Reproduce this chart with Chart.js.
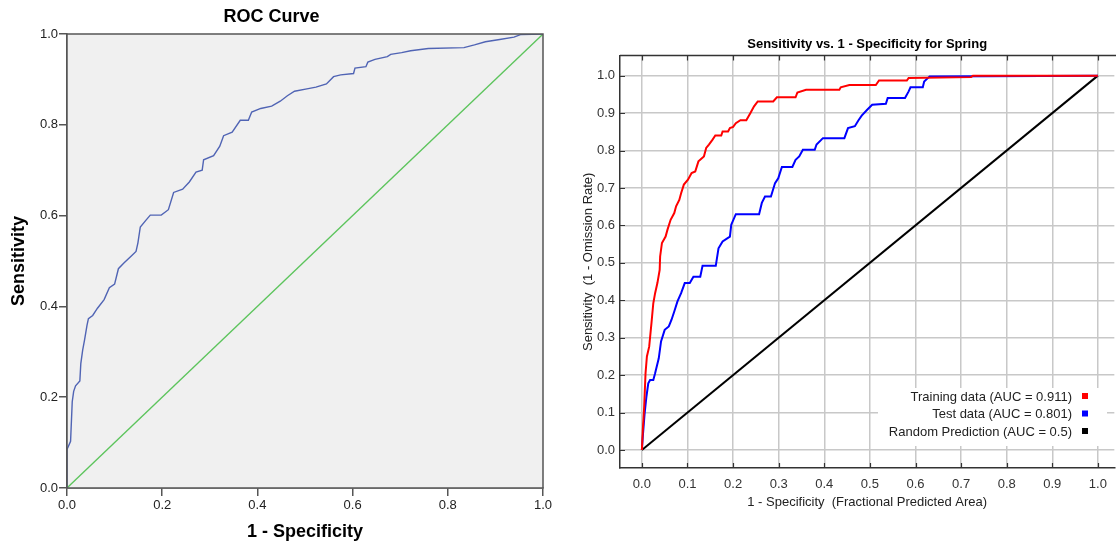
<!DOCTYPE html>
<html>
<head>
<meta charset="utf-8">
<script src="https://cdn.jsdelivr.net/npm/chart.js@4.4.1/dist/chart.umd.min.js"></script>
<style>
  html, body { margin: 0; padding: 0; background: #fff; }
  #wrap { position: relative; width: 1116px; height: 543px; overflow: hidden; }
  #c1 { position: absolute; left: 0; top: 0; }
  #c2 { position: absolute; left: 560px; top: 0; }
</style>
</head>
<body>
<div id="wrap">
  <canvas id="c1" width="560" height="543"></canvas>
  <canvas id="c2" width="556" height="543"></canvas>
</div>
<script>
// ---------- Left panel: ROC Curve ----------
const leftTitle = 'ROC Curve';
const leftXTitle = '1 - Specificity';
const leftYTitle = 'Sensitivity';
const leftTicks = [0, 0.2, 0.4, 0.6, 0.8, 1.0];
const leftFpr = [0, 0, 0.0075, 0.011, 0.014, 0.018, 0.027, 0.029, 0.033, 0.037, 0.042, 0.045, 0.054, 0.064, 0.078, 0.089, 0.1, 0.108, 0.119, 0.134, 0.145, 0.149, 0.154, 0.166, 0.175, 0.198, 0.213, 0.224, 0.243, 0.257, 0.271, 0.284, 0.287, 0.308, 0.321, 0.329, 0.347, 0.364, 0.381, 0.388, 0.407, 0.43, 0.448, 0.463, 0.478, 0.504, 0.523, 0.545, 0.56, 0.575, 0.602, 0.605, 0.628, 0.632, 0.647, 0.673, 0.68, 0.703, 0.722, 0.759, 0.834, 0.856, 0.879, 0.909, 0.939, 0.954, 1.0];
const leftTpr = [0, 0.085, 0.103, 0.19, 0.213, 0.225, 0.236, 0.274, 0.304, 0.327, 0.358, 0.373, 0.38, 0.396, 0.415, 0.441, 0.449, 0.483, 0.495, 0.51, 0.521, 0.54, 0.575, 0.59, 0.601, 0.601, 0.613, 0.651, 0.658, 0.674, 0.696, 0.7, 0.723, 0.732, 0.753, 0.776, 0.784, 0.81, 0.81, 0.828, 0.836, 0.841, 0.852, 0.864, 0.874, 0.879, 0.883, 0.89, 0.906, 0.91, 0.913, 0.925, 0.928, 0.938, 0.944, 0.95, 0.955, 0.959, 0.963, 0.968, 0.97, 0.976, 0.983, 0.988, 0.993, 0.999, 1.0];
const leftRef = [0, 1];

// ---------- Right panel: Maxent ----------
const rightTitle = 'Sensitivity vs. 1 - Specificity for Spring';
const rightXTitle = '1 - Specificity  (Fractional Predicted Area)';
const rightYTitle = 'Sensitivity  (1 - Omission Rate)';
const rightTicks = [0, 0.1, 0.2, 0.3, 0.4, 0.5, 0.6, 0.7, 0.8, 0.9, 1.0];
const legendLabels = ['Training data (AUC = 0.911)', 'Test data (AUC = 0.801)', 'Random Prediction (AUC = 0.5)'];
const trainFpr = [0, 0.002, 0.005, 0.008, 0.011, 0.016, 0.021, 0.025, 0.029, 0.034, 0.039, 0.04, 0.044, 0.052, 0.056, 0.063, 0.071, 0.075, 0.082, 0.086, 0.092, 0.101, 0.109, 0.117, 0.124, 0.136, 0.141, 0.147, 0.155, 0.161, 0.174, 0.177, 0.189, 0.193, 0.2, 0.206, 0.216, 0.229, 0.238, 0.246, 0.254, 0.288, 0.296, 0.337, 0.341, 0.36, 0.433, 0.436, 0.455, 0.513, 0.52, 0.581, 0.585, 0.722, 0.726, 1.0];
const trainTpr = [0, 0.053, 0.116, 0.205, 0.25, 0.276, 0.339, 0.392, 0.419, 0.446, 0.481, 0.517, 0.553, 0.57, 0.588, 0.615, 0.633, 0.651, 0.668, 0.686, 0.709, 0.722, 0.74, 0.744, 0.771, 0.784, 0.807, 0.816, 0.829, 0.84, 0.84, 0.851, 0.851, 0.86, 0.863, 0.873, 0.881, 0.881, 0.9, 0.918, 0.931, 0.931, 0.942, 0.942, 0.955, 0.962, 0.962, 0.969, 0.975, 0.975, 0.987, 0.987, 0.994, 0.996, 1.0, 1.0];
const testFpr = [0, 0.002, 0.006, 0.01, 0.014, 0.018, 0.025, 0.029, 0.037, 0.042, 0.05, 0.059, 0.065, 0.071, 0.078, 0.086, 0.094, 0.105, 0.113, 0.128, 0.133, 0.162, 0.168, 0.177, 0.193, 0.196, 0.206, 0.257, 0.263, 0.27, 0.283, 0.292, 0.299, 0.307, 0.33, 0.337, 0.345, 0.353, 0.379, 0.383, 0.397, 0.444, 0.452, 0.467, 0.475, 0.482, 0.494, 0.505, 0.535, 0.539, 0.577, 0.585, 0.589, 0.616, 0.619, 0.631, 1.0];
const testTpr = [0, 0.036, 0.098, 0.143, 0.178, 0.187, 0.187, 0.205, 0.245, 0.29, 0.321, 0.33, 0.348, 0.37, 0.397, 0.419, 0.446, 0.446, 0.463, 0.463, 0.492, 0.492, 0.539, 0.557, 0.57, 0.602, 0.63, 0.63, 0.66, 0.677, 0.677, 0.713, 0.726, 0.756, 0.756, 0.775, 0.784, 0.802, 0.802, 0.816, 0.833, 0.833, 0.86, 0.865, 0.881, 0.893, 0.909, 0.922, 0.925, 0.94, 0.94, 0.958, 0.969, 0.969, 0.984, 0.998, 1.0];
const randomRef = [0, 1];
const seriesColors = ['#ff0000', '#0000ff', '#000000'];

const toPts = (xs, ys) => xs.map((x, i) => ({ x: x, y: ys[i] }));
const FONT = 'Arial, "Liberation Sans", sans-serif';

// ---------- Left chart ----------
const leftPlugin = {
  id: 'leftFrame',
  beforeDatasetsDraw(chart) {
    const { ctx, chartArea: a } = chart;
    ctx.save();
    ctx.fillStyle = '#f0f0f0';
    ctx.fillRect(a.left, a.top, a.right - a.left, a.bottom - a.top);
    ctx.restore();
  },
  afterDraw(chart) {
    const { ctx, chartArea: a } = chart;
    ctx.save();
    ctx.strokeStyle = '#555';
    ctx.lineWidth = 1.5;
    ctx.strokeRect(a.left, a.top, a.right - a.left, a.bottom - a.top);
    ctx.restore();
  }
};

new Chart(document.getElementById('c1'), {
  type: 'line',
  data: {
    datasets: [
      { data: toPts(leftFpr, leftTpr), borderColor: '#5064b4', borderWidth: 1.4, pointRadius: 0, tension: 0, fill: false },
      { data: toPts(leftRef, leftRef), borderColor: '#5cc45c', borderWidth: 1.3, pointRadius: 0, tension: 0, fill: false }
    ]
  },
  options: {
    responsive: false,
    animation: false,
    layout: { padding: { left: 0, right: 17, top: 0, bottom: 0 } },
    plugins: {
      legend: { display: false },
      tooltip: { enabled: false },
      title: { display: true, text: leftTitle, color: '#000', font: { family: FONT, size: 18, weight: 'bold' }, padding: { top: 6, bottom: 6.4 } }
    },
    scales: {
      x: {
        type: 'linear', min: 0, max: 1,
        afterBuildTicks: s => { s.ticks = leftTicks.map(v => ({ value: v })); },
        afterFit: s => { s.height = 55; },
        ticks: { color: '#222', font: { family: FONT, size: 13 }, padding: 2, maxRotation: 0, callback: v => Number(v).toFixed(1) },
        grid: { drawOnChartArea: false, drawTicks: true, tickLength: 8, color: '#555', lineWidth: 1.5 },
        border: { display: true, color: '#555', width: 1.5 },
        title: { display: true, text: leftXTitle, color: '#000', font: { family: FONT, size: 18, weight: 'bold' }, padding: { top: 0, bottom: 0.5 } }
      },
      y: {
        type: 'linear', min: 0, max: 1,
        afterBuildTicks: s => { s.ticks = leftTicks.map(v => ({ value: v })); },
        afterFit: s => { s.width = 67; },
        ticks: { color: '#222', font: { family: FONT, size: 13 }, padding: 1, callback: v => Number(v).toFixed(1) },
        grid: { drawOnChartArea: false, drawTicks: true, tickLength: 8, color: '#555', lineWidth: 1.5 },
        border: { display: true, color: '#555', width: 1.5 },
        title: { display: true, text: leftYTitle, color: '#000', font: { family: FONT, size: 18, weight: 'bold' }, padding: { top: 8, bottom: 0 } }
      }
    }
  },
  plugins: [leftPlugin]
});

// ---------- Right chart ----------
const rightPlugin = {
  id: 'rightFrame',
  afterDatasetsDraw(chart) {
    const { ctx } = chart;
    ctx.save();
    const bx = 318, by = 388, bw = 229, bh = 58;
    ctx.fillStyle = '#ffffff';
    ctx.fillRect(bx, by, bw, bh);
    ctx.font = '13px ' + FONT;
    ctx.textAlign = 'right';
    ctx.textBaseline = 'middle';
    const rowsY = [397, 414.5, 432];
    legendLabels.forEach((t, i) => {
      ctx.fillStyle = '#222';
      ctx.fillText(t, 512, rowsY[i]);
      ctx.fillStyle = seriesColors[i];
      ctx.fillRect(522, rowsY[i] - 4, 6, 6);
    });
    ctx.restore();
  },
  afterDraw(chart) {
    const { ctx, chartArea: a, scales } = chart;
    ctx.save();
    ctx.strokeStyle = '#333';
    ctx.lineWidth = 1.5;
    ctx.beginPath();
    ctx.moveTo(a.left, a.top);
    ctx.lineTo(a.right + 2, a.top);
    ctx.stroke();
    ctx.lineWidth = 1.2;
    ctx.beginPath();
    rightTicks.forEach(v => {
      const px = Math.round(scales.x.getPixelForValue(v)) + 0.5;
      ctx.moveTo(px, a.top); ctx.lineTo(px, a.top + 5);
      ctx.moveTo(px, a.bottom); ctx.lineTo(px, a.bottom - 5);
      const py = Math.round(scales.y.getPixelForValue(v)) + 0.5;
      ctx.moveTo(a.left, py); ctx.lineTo(a.left + 5, py);
    });
    ctx.stroke();
    ctx.restore();
  }
};

new Chart(document.getElementById('c2'), {
  type: 'line',
  data: {
    datasets: [
      { label: legendLabels[0], data: toPts(trainFpr, trainTpr), borderColor: seriesColors[0], borderWidth: 2, pointRadius: 0, tension: 0, fill: false },
      { label: legendLabels[1], data: toPts(testFpr, testTpr), borderColor: seriesColors[1], borderWidth: 2, pointRadius: 0, tension: 0, fill: false },
      { label: legendLabels[2], data: toPts(randomRef, randomRef), borderColor: seriesColors[2], borderWidth: 2, pointRadius: 0, tension: 0, fill: false }
    ]
  },
  options: {
    responsive: false,
    animation: false,
    layout: { padding: { left: 0, right: 0, top: 0, bottom: 0 } },
    plugins: {
      legend: { display: false },
      tooltip: { enabled: false },
      title: { display: true, fullSize: false, text: rightTitle, color: '#000', font: { family: FONT, size: 13, weight: 'bold' }, padding: { top: 37, bottom: 3 } }
    },
    scales: {
      x: {
        type: 'linear', min: -0.048, max: 1.036,
        afterBuildTicks: s => { s.ticks = rightTicks.map(v => ({ value: v })); },
        afterFit: s => { s.height = 75; },
        ticks: { color: '#333', font: { family: FONT, size: 13 }, padding: 9, maxRotation: 0, autoSkip: false, callback: v => Number(v).toFixed(1) },
        grid: { drawOnChartArea: true, drawTicks: false, color: '#c8c8c8', lineWidth: 1.5 },
        border: { display: true, color: '#333', width: 1.5 },
        title: { display: true, text: rightXTitle, color: '#222', font: { family: FONT, size: 13 }, padding: { top: 0, bottom: 33 } }
      },
      y: {
        type: 'linear', min: -0.048, max: 1.0535,
        afterBuildTicks: s => { s.ticks = rightTicks.map(v => ({ value: v })); },
        afterFit: s => { s.width = 60; },
        ticks: { color: '#333', font: { family: FONT, size: 13 }, padding: 5, autoSkip: false, callback: v => Number(v).toFixed(1) },
        grid: { drawOnChartArea: true, drawTicks: false, color: '#c8c8c8', lineWidth: 1.5 },
        border: { display: true, color: '#333', width: 1.5 },
        title: { display: true, text: rightYTitle, color: '#222', font: { family: FONT, size: 13 }, padding: { top: 21, bottom: 0 } }
      }
    }
  },
  plugins: [rightPlugin]
});
</script>
</body>
</html>
